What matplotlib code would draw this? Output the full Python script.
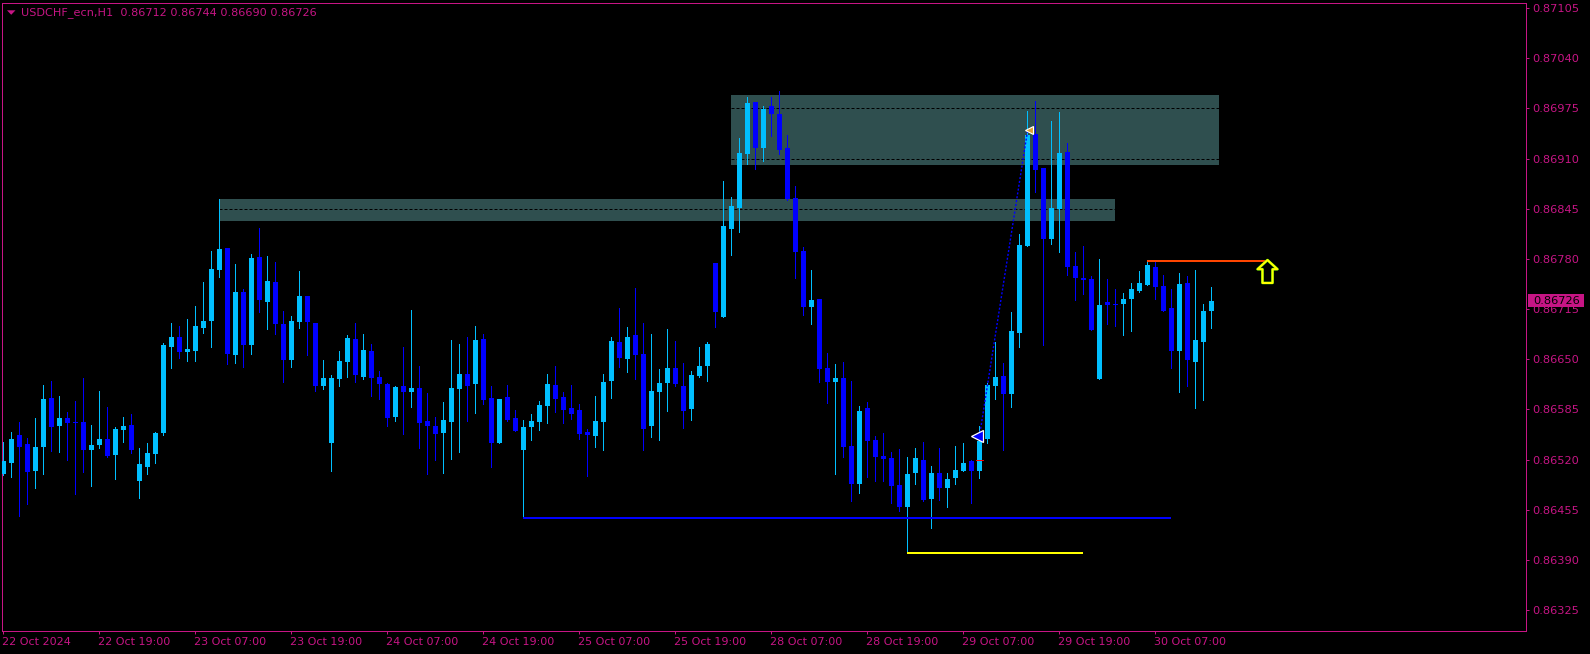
import numpy as np
import matplotlib
matplotlib.use("Agg")
import matplotlib.pyplot as plt
from matplotlib.patches import Polygon, Rectangle
from matplotlib.path import Path
from matplotlib.transforms import ScaledTranslation

# USDCHF_ecn H1, prices in points (price * 100000), one value per bar
opens = [86501, 86515, 86552, 86540, 86505, 86536, 86600, 86563, 86574, 86569,
         86569, 86532, 86539, 86547, 86526, 86558, 86565, 86492, 86510, 86527,
         86554, 86666, 86679, 86659, 86661, 86690, 86699, 86766, 86794, 86655,
         86737, 86668, 86782, 86724, 86750, 86696, 86649, 86698, 86732, 86697,
         86615, 86541, 86624, 86646, 86676, 86627, 86661, 86627, 86618, 86575,
         86615, 86608, 86613, 86570, 86563, 86554, 86569, 86611, 86631, 86618,
         86676, 86600, 86541, 86601, 86574, 86532, 86562, 86569, 86589, 86617,
         86601, 86587, 86584, 86556, 86551, 86569, 86622, 86672, 86650, 86681,
         86657, 86564, 86608, 86619, 86639, 86615, 86586, 86628, 86641, 86775,
         86705, 86819, 86846, 86916, 86983, 86924, 86978, 86968, 86924, 86859,
         86790, 86718, 86728, 86639, 86621, 86626, 86538, 86488, 86587, 86545,
         86525, 86522, 86487, 86459, 86503, 86519, 86469, 86503, 86483, 86496,
         86505, 86518, 86505, 86547, 86615, 86628, 86605, 86684, 86797, 86942,
         86898, 86806, 86845, 86919, 86771, 86755, 86754, 86624, 86724, 86722,
         86722, 86728, 86738, 86746, 86770, 86745, 86716, 86661, 86749, 86646,
         86672, 86712]
highs = [86543, 86556, 86569, 86548, 86574, 86617, 86622, 86602, 86582, 86596,
         86626, 86565, 86609, 86588, 86562, 86575, 86579, 86535, 86541, 86556,
         86671, 86697, 86693, 86702, 86719, 86750, 86790, 86858, 86794, 86773,
         86741, 86786, 86820, 86784, 86776, 86712, 86706, 86764, 86732, 86697,
         86649, 86630, 86661, 86681, 86697, 86683, 86670, 86635, 86619, 86615,
         86666, 86714, 86641, 86606, 86575, 86595, 86675, 86670, 86679, 86693,
         86683, 86615, 86598, 86617, 86584, 86571, 86579, 86596, 86631, 86641,
         86608, 86617, 86592, 86560, 86602, 86631, 86679, 86716, 86692, 86742,
         86697, 86683, 86637, 86689, 86674, 86645, 86635, 86666, 86672, 86775,
         86881, 86860, 86937, 86990, 86983, 86978, 86990, 86997, 86940, 86874,
         86795, 86766, 86728, 86658, 86644, 86646, 86622, 86589, 86595, 86551,
         86554, 86530, 86534, 86523, 86535, 86543, 86512, 86535, 86503, 86538,
         86541, 86520, 86563, 86619, 86672, 86645, 86711, 86812, 86972, 86985,
         86898, 86959, 86970, 86930, 86789, 86797, 86758, 86780, 86754, 86741,
         86736, 86749, 86764, 86777, 86776, 86759, 86741, 86762, 86758, 86766,
         86722, 86744]
lows = [86500, 86497, 86447, 86462, 86483, 86501, 86531, 86530, 86519, 86475,
        86504, 86486, 86535, 86523, 86495, 86543, 86528, 86470, 86501, 86515,
        86552, 86639, 86652, 86648, 86648, 86684, 86666, 86756, 86644, 86645,
        86640, 86657, 86711, 86689, 86683, 86620, 86640, 86690, 86655, 86609,
        86611, 86505, 86615, 86627, 86620, 86624, 86602, 86598, 86563, 86570,
        86553, 86588, 86535, 86501, 86519, 86503, 86521, 86530, 86570, 86580,
        86592, 86510, 86541, 86570, 86557, 86444, 86545, 86558, 86567, 86582,
        86567, 86573, 86547, 86499, 86536, 86532, 86600, 86640, 86633, 86624,
        86532, 86549, 86545, 86583, 86615, 86561, 86571, 86627, 86622, 86692,
        86705, 86785, 86815, 86903, 86896, 86907, 86939, 86916, 86856, 86755,
        86707, 86696, 86620, 86593, 86501, 86523, 86466, 86477, 86497, 86492,
        86492, 86464, 86453, 86399, 86488, 86466, 86431, 86468, 86458, 86488,
        86505, 86464, 86496, 86541, 86598, 86532, 86588, 86666, 86797, 86867,
        86668, 86799, 86789, 86759, 86727, 86735, 86688, 86624, 86696, 86693,
        86681, 86687, 86737, 86746, 86728, 86713, 86639, 86608, 86615, 86587,
        86597, 86690]
closes = [86518, 86547, 86537, 86504, 86537, 86598, 86562, 86574, 86567, 86567,
          86532, 86539, 86547, 86525, 86560, 86563, 86532, 86514, 86528, 86554,
          86668, 86679, 86659, 86663, 86693, 86699, 86767, 86793, 86657, 86737,
          86668, 86781, 86727, 86751, 86696, 86649, 86699, 86732, 86698, 86615,
          86626, 86626, 86648, 86677, 86630, 86662, 86626, 86618, 86574, 86614,
          86608, 86613, 86567, 86563, 86553, 86571, 86613, 86631, 86616, 86675,
          86597, 86541, 86598, 86571, 86557, 86562, 86570, 86591, 86618, 86598,
          86584, 86579, 86553, 86552, 86570, 86621, 86674, 86652, 86679, 86655,
          86560, 86609, 86619, 86639, 86618, 86583, 86630, 86641, 86670, 86711,
          86823, 86848, 86917, 86982, 86924, 86974, 86968, 86921, 86858, 86789,
          86718, 86727, 86637, 86620, 86626, 86536, 86488, 86583, 86544, 86523,
          86521, 86486, 86459, 86501, 86522, 86468, 86503, 86483, 86495, 86506,
          86516, 86505, 86544, 86617, 86627, 86605, 86687, 86798, 86941, 86895,
          86806, 86846, 86917, 86770, 86755, 86753, 86688, 86720, 86720, 86720,
          86728, 86741, 86749, 86772, 86744, 86713, 86661, 86747, 86649, 86675,
          86712, 86726]

time_labels = ["22 Oct 2024", "22 Oct 19:00", "23 Oct 07:00", "23 Oct 19:00", "24 Oct 07:00",
               "24 Oct 19:00", "25 Oct 07:00", "25 Oct 19:00", "28 Oct 07:00", "28 Oct 19:00",
               "29 Oct 07:00", "29 Oct 19:00", "30 Oct 07:00"]
time_ticks = list(range(0, 145, 12))
price_ticks = list(range(87105, 86324, -65))

# zones: first bar, last bar, bottom, top, dashed level(s)
zone_a = (27, 139, 86829, 86858, [86845])
zone_b = (91, 152, 86902, 86992, [86975, 86910])

blue_line = (65, 146, 86444)
yellow_line = (113, 135, 86399)
orange_line = (143, 158, 86777)
trend_x = [122, 128]
trend_y = [86550, 86945]
start_marker = (121.7, 86550)
end_marker = (128.2, 86947)
red_tick = (121.6, 122.4, 86520)
arrow_pos = (157.9, 86764)

PINK = "#C71585"
BULL = "#00BFFF"
BEAR = "#0000FF"
ZONE = "#2F4F4F"

to_price = lambda v: np.asarray(v) / 1e5

o, h, l, c = to_price(opens), to_price(highs), to_price(lows), to_price(closes)
x = np.arange(len(o))
colors = [BULL if c[i] >= o[i] else BEAR for i in x]

# the .4 keeps agg's snapping from pushing 1px lines one pixel over
fig = plt.figure(figsize=(15.9, 6.54), dpi=100, facecolor="black")
ax = fig.add_axes([2.4 / 1590, 23.4 / 654, 1524 / 1590, 628 / 654], facecolor="black")
ax.set_xlim(-0.125, 190.375)
ax.set_ylim(0.862985, 0.871121)

# pixel position inside the window -> axes fraction, for the furniture only
fx = lambda p: (p - 2.4) / 1524
fy = lambda p: (630.6 - p) / 628

for first, last, bottom, top, levels in (zone_a, zone_b):
    ax.add_patch(Rectangle((first, bottom / 1e5), last - first, (top - bottom) / 1e5,
                           facecolor=ZONE, edgecolor="none", antialiased=False, zorder=1))
    ax.hlines(to_price(levels), first, last, color="black", lw=0.72,
              linestyles=(0, (3, 2)), zorder=1.5)

ax.vlines(x, l, h, colors=colors, lw=0.72, antialiased=False, zorder=2)
ax.bar(x, c - o, bottom=o, width=0.625, color=colors, linewidth=0, antialiased=False, zorder=3)

ax.hlines(blue_line[2] / 1e5, blue_line[0], blue_line[1], color=BEAR, lw=1.44, antialiased=False, zorder=4)
ax.hlines(yellow_line[2] / 1e5, yellow_line[0], yellow_line[1], color="#FFFF00", lw=1.44, antialiased=False, zorder=4)
ax.hlines(orange_line[2] / 1e5, orange_line[0], orange_line[1], color="#FF4500", lw=1.44, antialiased=False, zorder=4)
ax.hlines(red_tick[2] / 1e5, red_tick[0], red_tick[1], color="#FF0000", lw=0.72, antialiased=False, zorder=4)

ax.plot(trend_x, to_price(trend_y), color=BEAR, lw=1.0, linestyle=(0, (1.5, 1.3)), zorder=4)
ax.plot(start_marker[0], start_marker[1] / 1e5, marker="<", ms=8, mfc=BEAR, mec="white", mew=0.9, zorder=5)
ax.plot(end_marker[0], end_marker[1] / 1e5, marker="<", ms=6.0, mfc="#E0A030", mec="white", mew=0.8, zorder=5)

# hollow up arrow
arrow_shape = Path([(0, 1), (0.87, 0.2), (0.44, 0.2), (0.44, -1), (-0.44, -1), (-0.44, 0.2), (-0.87, 0.2), (0, 1)],
                   closed=True)
ax.plot(arrow_pos[0], arrow_pos[1] / 1e5, marker=arrow_shape, ms=16.5, mfc="none", mec="#33CC00", mew=1.9, zorder=5)
ax.plot(arrow_pos[0], arrow_pos[1] / 1e5, marker=arrow_shape, ms=16.5, mfc="none", mec="#FFFF00", mew=1.5, zorder=6)

for side in ax.spines.values():
    side.set_color(PINK)
    side.set_linewidth(0.72)

ax.yaxis.tick_right()
ax.set_yticks(to_price(price_ticks))
ax.set_yticklabels(["%.5f" % (p / 1e5) for p in price_ticks])
ax.set_xticks(time_ticks)
ax.set_xticklabels(time_labels, ha="left")
ax.tick_params(axis="y", colors=PINK, labelsize=8.2, length=2.2, width=0.72, pad=1.7)
ax.tick_params(axis="x", colors=PINK, labelsize=8.05, length=2.2, width=0.72, pad=2.6)
for lab in ax.get_xticklabels():
    lab.set_transform(lab.get_transform() + ScaledTranslation(-1 / 100, 0, fig.dpi_scale_trans))

# header line and its little triangle
ax.add_patch(Polygon([(fx(7), fy(10.3)), (fx(15.5), fy(10.3)), (fx(11.2), fy(14.8))], closed=True,
                     transform=ax.transAxes, facecolor=PINK, edgecolor="none"))
header = "USDCHF_ecn,H1  %.5f %.5f %.5f %.5f" % (o[-1], h[-1], l[-1], c[-1])
ax.text(fx(21), fy(12.5), header, transform=ax.transAxes, color=PINK, fontsize=8.1, ha="left", va="center")

# current price tag on the right axis
tag_h = 13.4 * 1.2956e-5
ax.add_patch(Rectangle((fx(1528), c[-1] - tag_h / 2), 56 / 1524, tag_h, transform=ax.get_yaxis_transform(),
                       facecolor=PINK, edgecolor="none", clip_on=False, zorder=10))
ax.text(fx(1533), c[-1], "%.5f" % c[-1], transform=ax.get_yaxis_transform(), color="black",
        fontsize=8.2, ha="left", va="center", clip_on=False, zorder=11)

fig.savefig("out.png", dpi=100, facecolor="black")
